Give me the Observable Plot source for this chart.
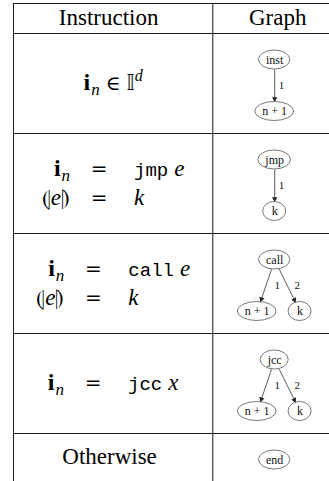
<!DOCTYPE html>
<html><head><meta charset="utf-8">
<script src="https://cdn.jsdelivr.net/npm/d3@7"></script>
<script src="https://cdn.jsdelivr.net/npm/@observablehq/plot@0.6"></script>
<style>html,body{margin:0;padding:0;background:#fff;overflow:hidden}svg{display:block}</style>
</head><body><div id="chart"></div>
<script>
// ---------- data ----------
const headers = ["Instruction", "Graph"];
// instruction column: centred formula, or eqnarray lines (lhs = rhs); pieces are "style:text" joined by "|"
const instrCentered = ["bf:i|sub:n|sp:|op:∈|sp:|ds:𝕀|sup:d", null, null, null, "rm:Otherwise"];
const instrLhs = [null, ["bf:i|sub:n", "br:⦇|it:e|br:⦈"], ["bf:i|sub:n", "br:⦇|it:e|br:⦈"], ["bf:i|sub:n"], null];
const instrRhs = [null, ["tt:jmp|sp:|it:e", "it:k"], ["tt:call|sp:|it:e", "it:k"], ["tt:jcc|sp:|it:x"], null];
// graph column: first label is the instruction node, the rest are its successors
const nodeLabels = [["inst", "n + 1"], ["jmp", "k"], ["call", "n + 1", "k"], ["jcc", "n + 1", "k"], ["end"]];
const edgeLabels = [["1"], ["1"], ["1", "2"], ["1", "2"], []];

// ---------- styles / layout ----------
const W = 329, H = 481, K = 100;          // K: pixels per row unit
const colX = [13, 212.3, 345.7];
const GX = 274.2;
const headerH = 0.3;
const SERIF = "Liberation Serif, DejaVu Serif, serif";
const STY = {
  rm:  {fontFamily: SERIF, fontSize: 23, fontStyle: "normal", fontWeight: "normal", dy: 0, ls: 0.9},
  bf:  {fontFamily: SERIF, fontSize: 24, fontStyle: "normal", fontWeight: "bold", dy: 0, ls: 0},
  it:  {fontFamily: SERIF, fontSize: 23, fontStyle: "italic", fontWeight: "normal", dy: 0, ls: 0},
  sub: {fontFamily: SERIF, fontSize: 17, fontStyle: "italic", fontWeight: "normal", dy: 5, ls: 0},
  sup: {fontFamily: SERIF, fontSize: 16, fontStyle: "italic", fontWeight: "normal", dy: -9, ls: 0},
  tt:  {fontFamily: "Liberation Mono, DejaVu Sans Mono, monospace", fontSize: 19, fontStyle: "normal", fontWeight: "normal", dy: 0, ls: 0},
  op:  {fontFamily: "DejaVu Serif, serif", fontSize: 20, fontStyle: "normal", fontWeight: "normal", dy: 0, ls: 0},
  br:  {fontFamily: "DejaVu Sans, sans-serif", fontSize: 23, fontStyle: "normal", fontWeight: "normal", dy: 0, ls: 0},
  ds:  {fontFamily: "DejaVu Sans, sans-serif", fontSize: 21, fontStyle: "normal", fontWeight: "normal", dy: 0, ls: 0}
};
const SPACE = 6;
const ctx = document.createElement("canvas").getContext("2d");
function textW(s, font) {
  ctx.font = `${font.fontStyle || "normal"} ${font.fontWeight || "normal"} ${font.fontSize}px ${font.fontFamily}`;
  return ctx.measureText(s).width + (font.ls || 0) * Math.max(0, [...s].length - 1);
}
const parse = (str) => str.split("|").map(p => { const i = p.indexOf(":"); return {style: p.slice(0, i), text: p.slice(i + 1)}; });
const pieceW = (p) => p.style === "sp" ? SPACE : textW(p.text, STY[p.style]) + (p.style === "bf" ? 1 : 0);
const seqW = (seq) => d3.sum(seq, pieceW);

const pieces = [];
function place(seq, x, y) {
  for (const p of seq) {
    if (p.style !== "sp") pieces.push({x, y, text: p.text, style: p.style});
    x += pieceW(p);
  }
}

// rows
const levels = nodeLabels.map(l => l.length > 1 ? 2 : 1);
const rowH = levels.map(n => (48 + 52 * (n - 1)) / K);
const rowTop = [];
let acc = 0;
rowH.forEach(h => { rowTop.push(acc); acc += h; });
const y0 = -headerH;

// header
headers.forEach((h, j) => {
  const seq = parse("rm:" + h);
  const cx = (colX[j] + colX[j + 1]) / 2;
  place(seq, cx - seqW(seq) / 2, y0 + 21 / K);
});

// instruction column
const G1 = 29, G2 = 35, LINE = 29;
const eqSeq = parse("op:=");
rowTop.forEach((top, i) => {
  const cx = (colX[0] + colX[1]) / 2;
  const mid = top + rowH[i] / 2 + 6.5 / K;
  if (instrCentered[i]) {
    const seq = parse(instrCentered[i]);
    place(seq, cx - seqW(seq) / 2, mid);
  } else {
    const L = instrLhs[i].map(parse), R = instrRhs[i].map(parse);
    const lw = d3.max(L, seqW), rw = d3.max(R, seqW);
    const start = cx - (lw + G1 + G2 + rw) / 2;
    const lr = start + lw, ec = lr + G1, rs = ec + G2;
    L.forEach((seq, k) => {
      const y = mid + (k - (L.length - 1) / 2) * LINE / K;
      place(seq, lr - seqW(seq), y);
      place(eqSeq, ec - seqW(eqSeq) / 2, y);
      place(R[k], rs, y);
    });
  }
});

// graph column
const NODE = {fontFamily: SERIF, fontSize: 12};
const RY = 9.5, GAP = 12, ARROW_R = 2;
const nodes = [], edges = [];
const apex = 2 * Math.sqrt((ARROW_R * ARROW_R * Math.PI) / (3 * Math.sqrt(3)));
nodeLabels.forEach((labels, i) => {
  const mk = (label, x, y) => {
    const rx = Math.max(11.5, textW(label, NODE) / 2 + 7);
    const n = {label, x, y, rx, x1: x - rx, x2: x + rx, y1: y - RY / K, y2: y + RY / K};
    nodes.push(n); return n;
  };
  const root = mk(labels[0], GX, rowTop[i] + 26.5 / K);
  const kids = labels.slice(1);
  const rxs = kids.map(l => Math.max(11.5, textW(l, NODE) / 2 + 7));
  const total = d3.sum(rxs) * 2 + GAP * (kids.length - 1);
  let x = GX - total / 2;
  kids.forEach((l, k) => {
    const c = mk(l, x + rxs[k], rowTop[i] + 78 / K);
    x += 2 * rxs[k] + GAP;
    const dx = c.x - root.x, dy = (c.y - root.y) * K, len = Math.hypot(dx, dy);
    const ux = dx / len, uy = dy / len;
    const clip = (n) => 1 / Math.hypot(ux / n.rx, uy / RY);
    const t0 = clip(root), t1 = clip(c);
    const tipX = c.x - ux * t1, tipY = c.y - uy * t1 / K;
    const hx = tipX - ux * apex, hy = tipY - uy * apex / K;
    const off = dx < -1 ? 8.5 : dx > 1 ? 7 : 4;
    edges.push({
      label: edgeLabels[i][k],
      x1: root.x + ux * t0, y1: root.y + uy * t0 / K,
      x2: hx, y2: hy, hx, hy,
      angle: Math.atan2(dx, -dy) * 180 / Math.PI,
      lx: (root.x + c.x) / 2 + off, ly: (root.y + c.y) / 2
    });
  });
});

const hLines = [y0, 0, ...rowTop.slice(1)];

const textMarks = Object.keys(STY).map(k => Plot.text(pieces.filter(p => p.style === k), {
  x: "x", y: "y", text: "text", textAnchor: "start", lineAnchor: "bottom",
  fontFamily: STY[k].fontFamily, fontSize: STY[k].fontSize, fontStyle: STY[k].fontStyle,
  fontWeight: STY[k].fontWeight, dy: STY[k].dy, fill: "#000", ariaLabel: k
}));

const chart = Plot.plot({
  width: W, height: H, margin: 0,
  x: {domain: [0, W], range: [0, W], axis: null},
  y: {domain: [y0, acc], range: [3, H], axis: null},
  marks: [
    Plot.ruleY(hLines, {y: d => d, x1: colX[0], x2: W, stroke: "#1a1a1a", strokeWidth: 1}),
    Plot.ruleX(colX.slice(0, 2), {x: d => d, y1: y0, y2: acc, stroke: "#1a1a1a", strokeWidth: 1}),
    Plot.link(edges, {x1: "x1", y1: "y1", x2: "x2", y2: "y2", stroke: "#333", strokeWidth: 0.8}),
    Plot.dot(edges, {x: "hx", y: "hy", symbol: "triangle", r: ARROW_R, rotate: "angle", fill: "#222", stroke: "none"}),
    Plot.rect(nodes, {x1: "x1", x2: "x2", y1: "y1", y2: "y2", rx: 100, ry: 100, fill: "none", stroke: "#555", strokeWidth: 0.8}),
    Plot.text(nodes, {x: "x", y: "y", text: "label", fontFamily: NODE.fontFamily, fontSize: NODE.fontSize, fill: "#111"}),
    Plot.text(edges, {x: "lx", y: "ly", text: "label", textAnchor: "start", fontFamily: SERIF, fontSize: 11, fill: "#111"}),
    ...textMarks
  ]
});
chart.querySelectorAll('g[aria-label="rm"] text').forEach(t => t.setAttribute("letter-spacing", STY.rm.ls));
document.getElementById("chart").append(chart);
</script>
</body></html>
